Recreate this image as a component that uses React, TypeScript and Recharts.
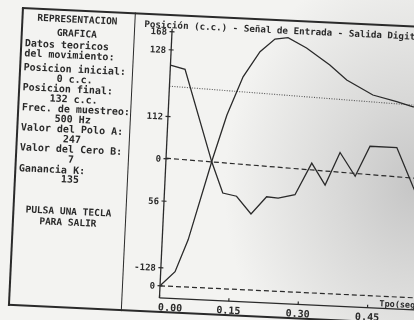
import React from "react"
import { LineChart, Line, XAxis, YAxis, ReferenceLine } from "recharts"

// Salida: posición (c.c.) frente al tiempo (s)
const tSalida = [0, 0.031, 0.056, 0.101, 0.127, 0.158, 0.192, 0.223, 0.251, 0.292, 0.344, 0.382, 0.44, 0.492, 0.528, 0.56]
const posSalida = [0, 9.8, 31.2, 86, 114.8, 140.5, 157.6, 166.4, 167.7, 161.5, 151, 141.6, 132.5, 128.8, 126, 124.5]

// Señal del regulador digital (escala -128..128)
const tSenal = [0, 0.032, 0.099, 0.126, 0.156, 0.189, 0.221, 0.246, 0.282, 0.315, 0.346, 0.375, 0.41, 0.439, 0.497, 0.536, 0.56]
const valSenal = [110, 106, -1, -37, -40, -60, -39, -40, -35, 3, -22, 17, -10, 26, 26, -19, -45]

// Consigna (punteada) y cero de la señal (trazos)
const tConsigna = [0, 0.592]
const valConsigna = [132, 126.5]
const tCero = [0, 0.592]
const valCero = [0.7, -10]

const xTicks = [0, 0.15, 0.3, 0.45]
const xTickLabels = ["0.00", "0.15", "0.30", "0.45"]
const yTicks = [0, 12, 56, 84, 112, 156, 168]
const yTickLabels = ["0", "-128", "56", "0", "112", "128", "168"]

const salida = tSalida.map((t, i) => ({ t, v: posSalida[i] }))
const senal = tSenal.map((t, i) => ({ t, v: valSenal[i] }))
const consigna = tConsigna.map((t, i) => ({ t, v: valConsigna[i] }))
const cero = tCero.map((t, i) => ({ t, v: valCero[i] }))

const INK = "#2a2a2a"
const MONO = '"DejaVu Sans Mono", "Liberation Mono", monospace'
const PLOT_LEFT = 166
const AXIS_Y = 300

type Renglon = { texto: string; y: number; centrado?: boolean; size?: number }
const renglones: Renglon[] = [
  { texto: "REPRESENTACION", y: 26, centrado: true, size: 9.5 },
  { texto: "GRAFICA", y: 39.3, centrado: true, size: 9.5 },
  { texto: "Datos teoricos", y: 52.4 },
  { texto: "del movimiento:", y: 62.4 },
  { texto: "Posicion inicial:", y: 76.4 },
  { texto: "0 c.c.", y: 86, centrado: true },
  { texto: "Posicion final:", y: 96.4 },
  { texto: "132 c.c.", y: 106, centrado: true },
  { texto: "Frec. de muestreo:", y: 116.4 },
  { texto: "500 Hz", y: 126, centrado: true },
  { texto: "Valor del Polo A:", y: 136.4 },
  { texto: "247", y: 146, centrado: true },
  { texto: "Valor del Cero B:", y: 156.4 },
  { texto: "7", y: 166, centrado: true },
  { texto: "Ganancia K:", y: 177 },
  { texto: "135", y: 186, centrado: true },
  { texto: "PULSA UNA TECLA", y: 218.2, centrado: true, size: 9.5 },
  { texto: "PARA SALIR", y: 228.8, centrado: true, size: 9.5 },
]

function YTick(props: any) {
  const { y, payload } = props
  const i = yTicks.indexOf(payload.value)
  return (
    <g>
      <line x1={PLOT_LEFT - 2.5} x2={PLOT_LEFT + 2.5} y1={y} y2={y} stroke={INK} strokeWidth={1.2} />
      <text x={PLOT_LEFT - 5} y={y} dy={3.3} textAnchor="end" fontSize={9} fontFamily={MONO} fontWeight="bold" fill={INK}>
        {yTickLabels[i]}
      </text>
    </g>
  )
}

function XTick(props: any) {
  const { x, payload } = props
  const i = xTicks.indexOf(payload.value)
  return (
    <g>
      <line x1={x} x2={x} y1={AXIS_Y - 3} y2={AXIS_Y} stroke={INK} strokeWidth={1.2} />
      <text
        x={i === 0 ? x - 1 : x}
        y={AXIS_Y + 12.5}
        textAnchor={i === 0 ? "start" : "middle"}
        fontSize={10}
        fontFamily={MONO}
        fontWeight="bold"
        fill={INK}
      >
        {xTickLabels[i]}
      </text>
    </g>
  )
}

export default function App() {
  const bar = (s: React.CSSProperties) => <div style={{ position: "absolute", background: INK, ...s }} />
  return (
    <div
      style={{
        position: "fixed",
        left: 0,
        top: 0,
        width: 414,
        height: 320,
        overflow: "hidden",
        background: "radial-gradient(ellipse 190px 230px at 100% 58%, #c6c6c6 0%, #d9d9d8 40%, #f3f3f1 100%)",
        fontFamily: MONO,
        color: INK,
      }}
    >
      <div
        style={{
          position: "absolute",
          left: 0,
          top: 0,
          width: 414,
          height: 320,
          transform: "rotate(2.7deg)",
          transformOrigin: "207px 160px",
        }}
      >
        <div style={{ position: "absolute", left: 0, top: 0 }}>
          <LineChart width={450} height={320} margin={{ top: 30.5, right: 10, bottom: 0, left: 0 }}>
            <XAxis
              type="number"
              dataKey="t"
              domain={[0, 0.592]}
              ticks={xTicks}
              interval={0}
              tick={XTick}
              tickLine={false}
              axisLine={{ stroke: INK, strokeWidth: 1.3 }}
              height={20}
              allowDataOverflow
            />
            <YAxis
              yAxisId="pos"
              type="number"
              domain={[-8, 170]}
              ticks={yTicks}
              interval={0}
              tick={YTick}
              tickLine={false}
              axisLine={{ stroke: INK, strokeWidth: 1.3 }}
              width={166}
              allowDataOverflow
            />
            <YAxis yAxisId="sig" type="number" domain={[-163.5, 152.9]} hide allowDataOverflow />
            <ReferenceLine yAxisId="pos" y={0} stroke={INK} strokeWidth={1.2} strokeDasharray="5 3" />
            <Line yAxisId="pos" data={consigna} dataKey="v" type="linear" stroke="#555" strokeWidth={1.1} strokeDasharray="1 1.5" dot={false} isAnimationActive={false} />
            <Line yAxisId="sig" data={cero} dataKey="v" type="linear" stroke={INK} strokeWidth={1.2} strokeDasharray="5 3" dot={false} isAnimationActive={false} />
            <Line yAxisId="pos" data={salida} dataKey="v" type="linear" stroke={INK} strokeWidth={1.3} dot={false} isAnimationActive={false} />
            <Line yAxisId="sig" data={senal} dataKey="v" type="linear" stroke={INK} strokeWidth={1.3} dot={false} isAnimationActive={false} />
          </LineChart>
        </div>

        {bar({ left: 14.5, top: 16, width: 520, height: 2 })}
        {bar({ left: 14.5, top: 16, width: 2, height: 299 })}
        {bar({ left: 127.8, top: 16, width: 1.5, height: 299 })}
        {bar({ left: 14.5, top: 313, width: 520, height: 2 })}

        {renglones.map((r) => {
          const size = r.size ?? 10
          return (
            <div
              key={r.texto}
              style={{
                position: "absolute",
                left: r.centrado ? 15 : 19.5,
                width: r.centrado ? 112 : undefined,
                top: r.y - size / 2,
                fontSize: size,
                lineHeight: `${size}px`,
                textAlign: r.centrado ? "center" : "left",
                whiteSpace: "pre",
                fontWeight: "bold",
              }}
            >
              {r.texto}
            </div>
          )
        })}

        <div style={{ position: "absolute", left: 138, top: 21.9, fontSize: 9.2, lineHeight: "9.2px", whiteSpace: "pre", fontWeight: "bold" }}>
          Posición (c.c.) - Señal de Entrada - Salida Digital
        </div>
        <div style={{ position: "absolute", left: 386, top: 290.5, fontSize: 8.5, lineHeight: "8.5px", whiteSpace: "pre", fontWeight: "bold" }}>
          Tpo(seg)
        </div>
      </div>
    </div>
  )
}
